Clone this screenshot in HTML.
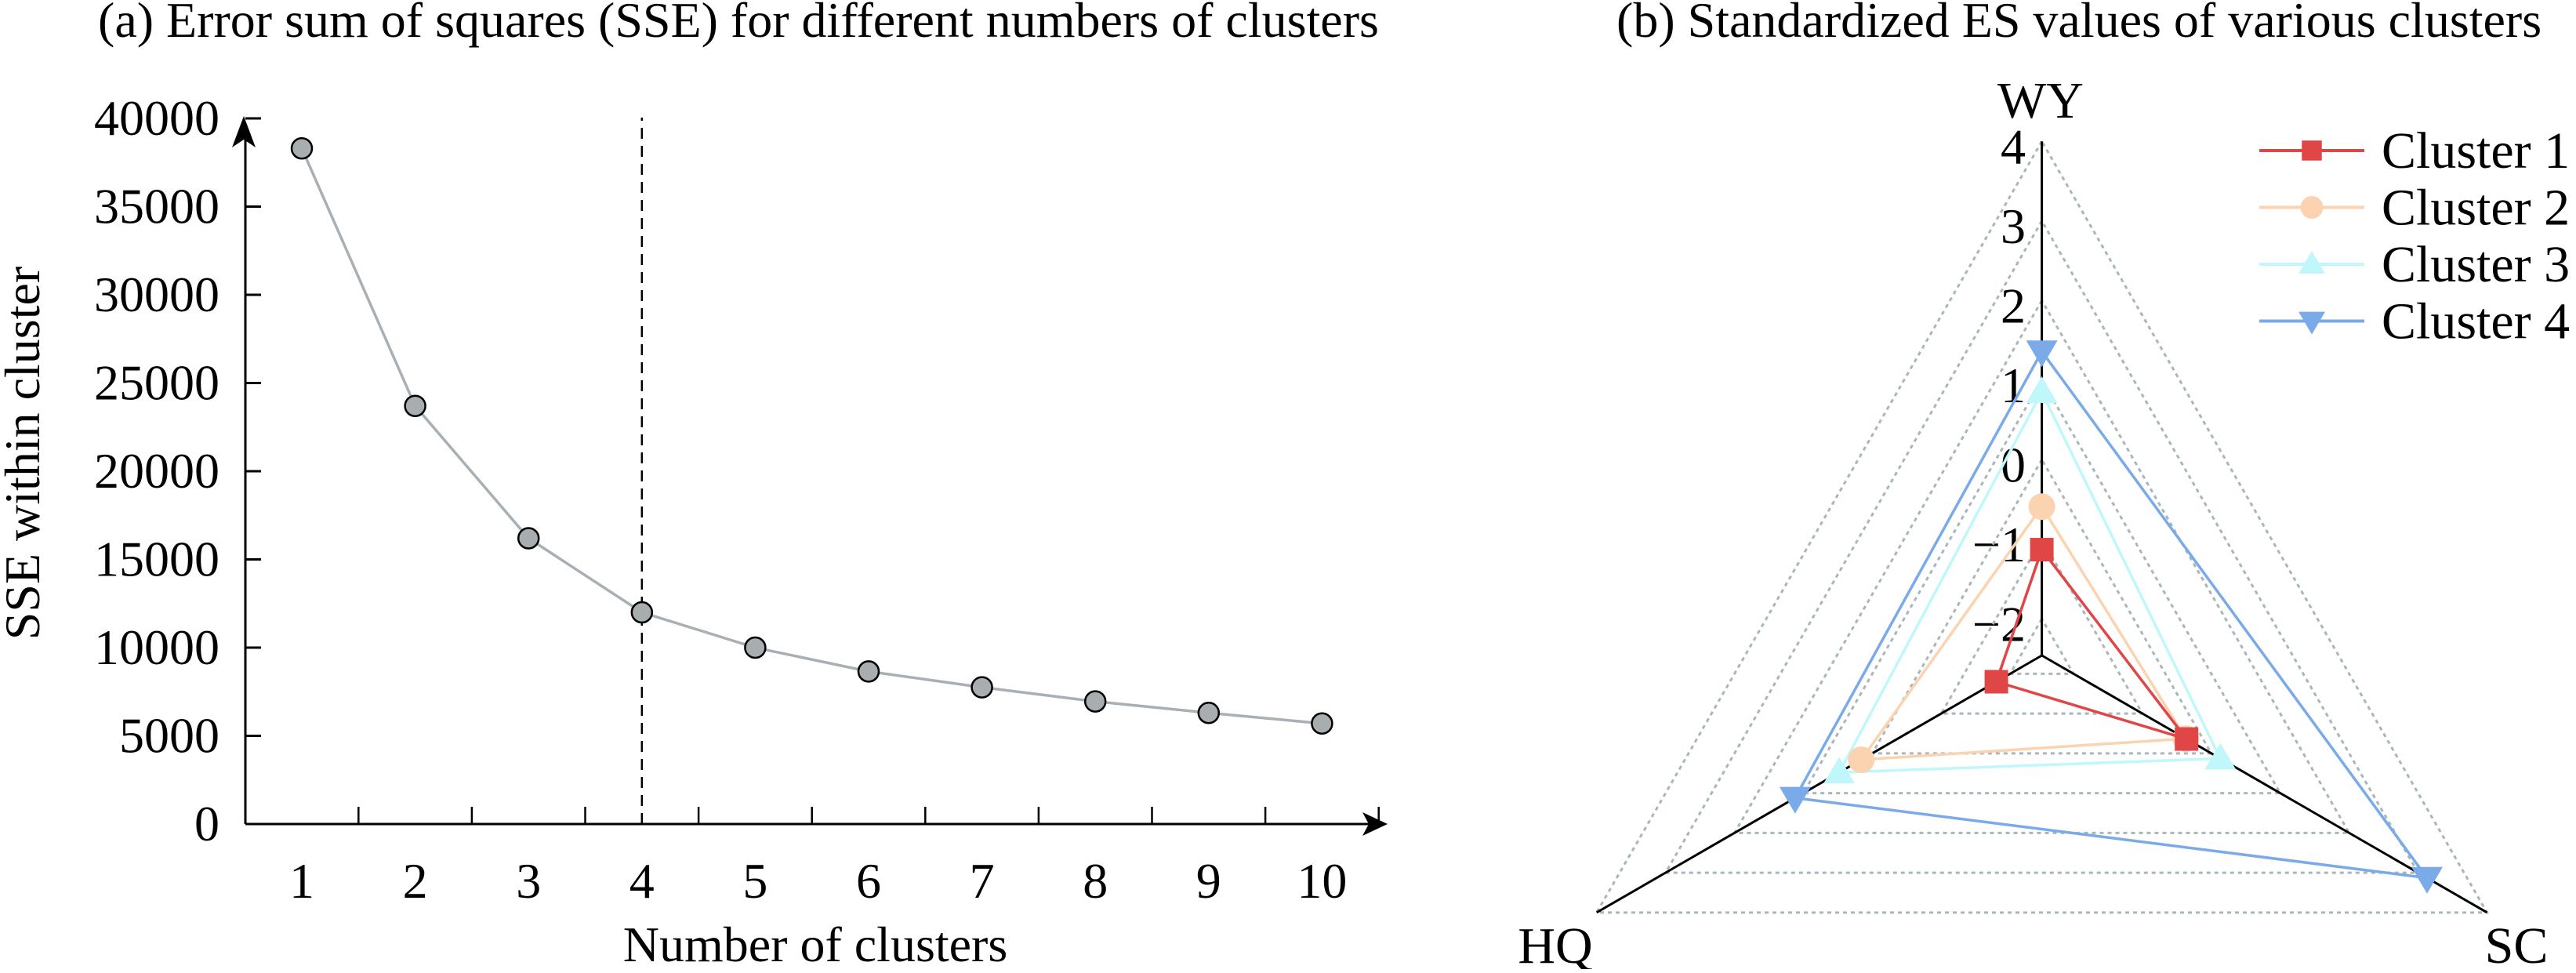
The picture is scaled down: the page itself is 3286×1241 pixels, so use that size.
<!DOCTYPE html>
<html><head><meta charset="utf-8"><style>
body{margin:0;background:#fff}
svg text{font-family:"Liberation Serif",serif;fill:#000}
</style></head><body>
<svg width="3286" height="1236" viewBox="0 0 3286 1236">
<text x="125" y="47" font-size="64">(a) Error sum of squares (SSE) for different numbers of clusters</text>
<text x="2062" y="47" font-size="64">(b) Standardized ES values of various clusters</text>
<g id="left"></g>
<g id="right"></g>
</svg>
<script>
const clusters=[1,2,3,4,5,6,7,8,9,10];
const sse=[38300,23700,16200,12000,10000,8650,7750,6950,6300,5700];
const yTicks=[0,5000,10000,15000,20000,25000,30000,35000,40000];
const radarAxes=["WY","HQ","SC"];
const c1=[-1.13,-1.80,-0.36];
const c2=[-0.59,0.16,-0.37];
const c3=[0.85,0.48,0.13];
const c4=[1.36,1.12,3.13];
const rTicks=[-2,-1,0,1,2,3,4];
const NS="http://www.w3.org/2000/svg";
function mk(p,t,a){const e=document.createElementNS(NS,t);for(const k in a)e.setAttribute(k,a[k]);p.appendChild(e);return e;}
const L=document.getElementById('left');
const X=v=>385+(v-1)*144.6, Y=v=>1051-v*0.0225;
let e=mk(L,'line',{x1:313,y1:1051,x2:1750,y2:1051,stroke:'#000','stroke-width':3});

e=mk(L,'polygon',{points:'1770,1051 1738,1036 1746,1051 1738,1066',fill:'#000'});

e=mk(L,'line',{x1:313,y1:1051,x2:313,y2:160,stroke:'#000','stroke-width':3});

e=mk(L,'polygon',{points:'311,148 296,188 311,178 326,188',fill:'#000'});

yTicks.forEach(t=>{
 e=mk(L,'line',{x1:313,y1:Y(t),x2:333,y2:Y(t),stroke:'#000','stroke-width':3});
 
 e=mk(L,'text',{x:280,y:Y(t)+21,'font-size':64,'text-anchor':'end'});e.textContent=t;
 
});
clusters.forEach(c=>{
 e=mk(L,'line',{x1:X(c+0.5),y1:1051,x2:X(c+0.5),y2:1029,stroke:'#000','stroke-width':2.5});
 
 e=mk(L,'text',{x:X(c),y:1145,'font-size':64,'text-anchor':'middle'});e.textContent=c;
 
});
e=mk(L,'text',{x:1040,y:1226,'font-size':64,'text-anchor':'middle'});e.textContent='Number of clusters';

e=mk(L,'text',{x:0,y:0,'font-size':64,'text-anchor':'middle',transform:'translate(50,578) rotate(-90)'});e.textContent='SSE within cluster';

e=mk(L,'line',{x1:X(4),y1:1051,x2:X(4),y2:150,stroke:'#000','stroke-width':2.5,'stroke-dasharray':'14,9'});

e=mk(L,'polyline',{points:clusters.map((c,i)=>X(c)+','+Y(sse[i])).join(' '),fill:'none',stroke:'#a9b0b5','stroke-width':3.5});

clusters.forEach((c,i)=>{
 e=mk(L,'circle',{cx:X(c),cy:Y(sse[i]),r:13,fill:'#a8adb0',stroke:'#000','stroke-width':2.5});
 
});
const R=document.getElementById('right');
const cx=2604.6,cy=836,vMin=-2.46,rs=101.5;
const ang=[-90,150,30].map(a=>a*Math.PI/180);
const rr=v=>(v-vMin)*rs;
const pt=(i,v)=>[cx+rr(v)*Math.cos(ang[i]),cy+rr(v)*Math.sin(ang[i])];
rTicks.forEach(t=>{
 e=mk(R,'polygon',{points:[0,1,2].map(i=>pt(i,t).join(',')).join(' '),fill:'none',stroke:'#a9b6bb','stroke-width':3,'stroke-dasharray':'5,5'});
 
 const p=pt(0,t);
 e=mk(R,'text',{x:2584,y:p[1]+28,'font-size':64,'text-anchor':'end'});e.textContent=t<0?'\u2212'+(-t):t;
 
});
radarAxes.forEach((a,i)=>{
 const p=pt(i,4);
 e=mk(R,'line',{x1:cx,y1:cy,x2:p[0],y2:p[1],stroke:'#000','stroke-width':3});
 
});
[[2603,150],[1984,1228],[3210,1228]].forEach((q,i)=>{
 e=mk(R,'text',{x:q[0],y:q[1],'font-size':66,'text-anchor':'middle'});e.textContent=radarAxes[i];
 
});
const series=[[c1,'#e04646','sq','Cluster 1'],[c2,'#fbd3b0','ci','Cluster 2'],[c3,'#bff7fb','tu','Cluster 3'],[c4,'#7aaae8','td','Cluster 4']];
function marker(g,x,y,type,col,s){
 if(type==='sq')return mk(g,'rect',{x:x-15*s,y:y-15*s,width:30*s,height:30*s,fill:col});
 if(type==='ci')return mk(g,'circle',{cx:x,cy:y,r:17*s,fill:col});
 if(type==='tu')return mk(g,'polygon',{points:`${x},${y-20*s} ${x-20*s},${y+14*s} ${x+20*s},${y+14*s}`,fill:col});
 return mk(g,'polygon',{points:`${x},${y+20*s} ${x-20*s},${y-14*s} ${x+20*s},${y-14*s}`,fill:col});
}
series.slice().reverse().forEach(s=>{
 e=mk(R,'polygon',{points:[0,1,2].map(i=>pt(i,s[0][i]).join(',')).join(' '),fill:'none',stroke:s[1],'stroke-width':3.5});
 
 [0,1,2].forEach(i=>{const p=pt(i,s[0][i]);
  e=marker(R,p[0],p[1],s[2],s[1],1);
  });
});
series.forEach((s,k)=>{
 const y=192+k*72.5;
 e=mk(R,'line',{x1:2882,y1:y,x2:3016,y2:y,stroke:s[1],'stroke-width':4});
 
 e=marker(R,2949,y,s[2],s[1],0.85);
 
 e=mk(R,'text',{x:3038,y:y+22,'font-size':66});e.textContent=s[3];
 
});
</script>
</body></html>
